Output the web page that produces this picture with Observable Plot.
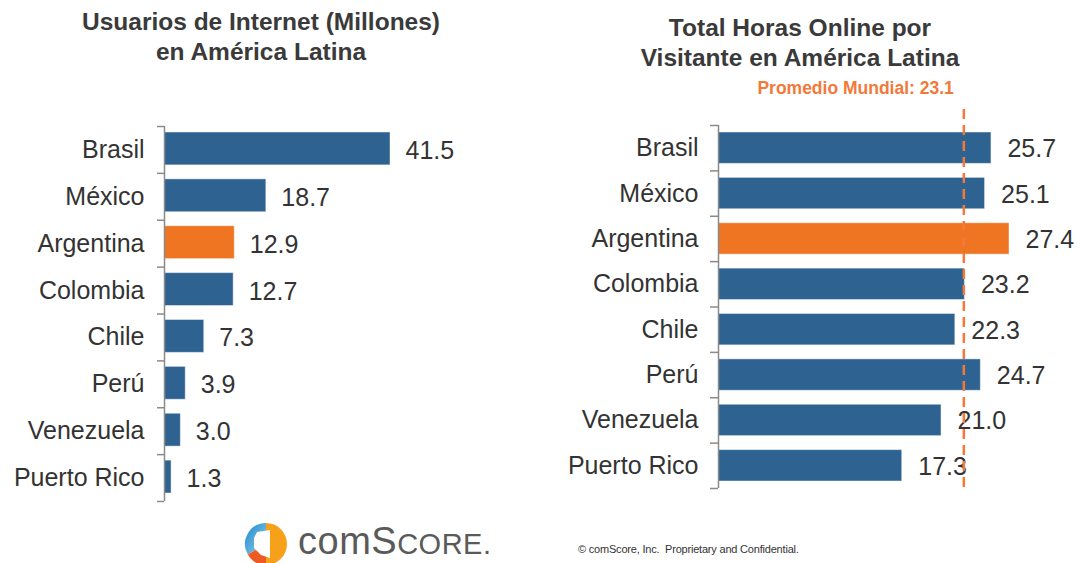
<!DOCTYPE html>
<html>
<head>
<meta charset="utf-8">
<script src="https://cdn.jsdelivr.net/npm/d3@7"></script>
<script src="https://cdn.jsdelivr.net/npm/@observablehq/plot@0.6"></script>
<style>
  html, body { margin: 0; padding: 0; background: #fff; }
  #page { position: relative; width: 1080px; height: 563px; overflow: hidden; font-family: "Liberation Sans", Arial, sans-serif; }
  .title { position: absolute; width: 480px; text-align: center; font-weight: bold; font-size: 24.5px; line-height: 30px; color: #3a3a3a; }
  .panel { position: absolute; top: 0; }
  .brand { position: absolute; left: 298px; top: 520px; font-size: 38px; color: #5a5a5a; letter-spacing: 0.5px; }
  .brand .sc { font-size: 29px; }
  .legal { position: absolute; left: 578px; top: 543px; font-size: 11px; color: #333; letter-spacing: -0.2px; }
</style>
</head>
<body>
<div id="page">
  <div class="title" style="left:21px; top:7px;">Usuarios de Internet (Millones)<br>en América Latina</div>
  <div class="title" style="left:560px; top:13px;">Total Horas Online por<br>Visitante en América Latina</div>
  <div class="panel" id="left" style="left:0;"></div>
  <div class="panel" id="right" style="left:540px;"></div>
  <svg style="position:absolute; left:243px; top:521px;" width="46" height="46" viewBox="-23 -23 46 46">
    <defs>
      <linearGradient id="gb" x1="0" y1="0" x2="1" y2="1">
        <stop offset="0" stop-color="#1f88c9"/>
        <stop offset="1" stop-color="#8fd0ee"/>
      </linearGradient>
    </defs>
    <path d="M0,-21 A21,21 0 0,0 -18.2,10.5 L0,0 Z" fill="url(#gb)"/>
    <path d="M-18.2,10.5 A21,21 0 0,0 0,21 L0,0 Z" fill="#ee5a24"/>
    <path d="M0,21 A21,21 0 0,0 0,-21 L0,0 Z" fill="#f7a11a"/>
    <path d="M-9,-12 L4,-14 L4,14 L-5,11 L-12,4 L-12,-6 Z" fill="#fff"/>
  </svg>
  <div class="brand">com<span style="font-size:38px">S</span><span class="sc">CORE.</span></div>
  <div class="legal">© comScore, Inc.&nbsp; Proprietary and Confidential.</div>
</div>
<script>
// Internet users (millions) and total online hours per visitor, Latin America
const countries = ["Brasil", "México", "Argentina", "Colombia", "Chile", "Perú", "Venezuela", "Puerto Rico"];
const usuarios = [41.5, 18.7, 12.9, 12.7, 7.3, 3.9, 3.0, 1.3];
const horas = [25.7, 25.1, 27.4, 23.2, 22.3, 24.7, 21.0, 17.3];
const highlight = "Argentina";
const promedioMundial = 23.1;

const blue = "#2e6391";
const orange = "#ef7522";
const axisGray = "#8a8a8a";
const textColor = "#333333";

function barPanel(values, opts) {
  const rows = countries.map((country, i) => ({country, i, value: values[i]}));
  const n = countries.length;
  const marks = [
    Plot.rectX(rows, {
      x1: 0, x2: "value",
      y1: d => d.i, y2: d => d.i + 1,
      insetTop: opts.insetTop, insetBottom: opts.insetBottom,
      fill: d => d.country === highlight ? orange : blue,
      stroke: "white", strokeOpacity: 0.45, strokeWidth: 1
    }),
    Plot.text(rows, {
      x: "value", y: d => d.i + 0.5,
      text: d => d.value.toFixed(1),
      textAnchor: "start", dx: opts.valueDx, dy: 1,
      fontSize: 25, fill: textColor
    }),
    // category labels at band centres
    Plot.axisY(d3.range(n).map(i => i + 0.5), {
      tickSize: 0, tickPadding: 20, fontSize: 25, fill: textColor,
      tickFormat: d => countries[Math.floor(d)], label: null
    }),
    // tick marks at band boundaries
    Plot.axisY(d3.range(n + 1), {
      tickSize: opts.tickSize, tickFormat: () => "", stroke: axisGray, strokeWidth: 1.5, label: null
    }),
    Plot.ruleX([0], {stroke: axisGray, strokeWidth: 1.5})
  ];
  if (opts.extra) marks.push(...opts.extra);
  return Plot.plot({
    width: 540,
    height: 520,
    marginTop: opts.marginTop,
    marginBottom: opts.marginBottom,
    marginLeft: opts.marginLeft,
    marginRight: opts.marginRight,
    x: {domain: [0, d3.max(values)], axis: null},
    y: {domain: [0, n], reverse: true},
    style: {fontFamily: "'Liberation Sans', Arial, sans-serif", fontSize: "25px", color: textColor, background: "transparent", overflow: "visible"},
    marks
  });
}

document.getElementById("left").append(barPanel(usuarios, {
  marginTop: 126, marginBottom: 19, marginLeft: 164, marginRight: 150,
  insetTop: 6, insetBottom: 8, tickSize: 7, valueDx: 15
}));

document.getElementById("right").append(barPanel(horas, {
  marginTop: 125, marginBottom: 32, marginLeft: 178, marginRight: 71,
  insetTop: 7, insetBottom: 7, tickSize: 8, valueDx: 16,
  extra: [
    Plot.ruleX([promedioMundial], {
      stroke: "#f2793a", strokeWidth: 2.5, strokeDasharray: "10,6",
      insetTop: -16, insetBottom: -3
    }),
    Plot.text([promedioMundial], {
      x: d => d, frameAnchor: "top", dy: -37, dx: -10, lineAnchor: "middle",
      text: d => `Promedio Mundial: ${d}`,
      textAnchor: "end", fontSize: 17.5, fontWeight: "bold", fill: "#f2793a"
    })
  ]
}));
</script>
</body>
</html>
